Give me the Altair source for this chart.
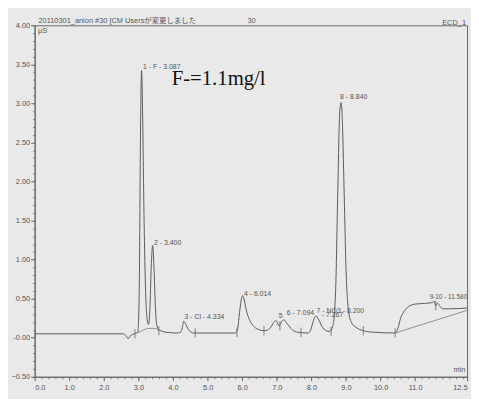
import altair as alt
import pandas as pd

# Chromatogram trace (retention time in min, conductivity in µS)
time_min = [0.0, 2.55, 2.63, 2.70, 2.78, 2.88, 2.98, 3.02, 3.06, 3.09, 3.12, 3.16, 3.20, 3.25,
            3.29, 3.33, 3.37, 3.41, 3.45, 3.49, 3.53, 3.60, 3.80, 4.10, 4.22, 4.27, 4.31, 4.36,
            4.45, 4.60, 5.80, 5.87, 5.93, 5.98, 6.01, 6.05, 6.12, 6.22, 6.35, 6.50, 6.65, 6.80,
            6.92, 6.98, 7.07, 7.13, 7.20, 7.30, 7.45, 7.60, 7.90, 7.98, 8.06, 8.13, 8.20, 8.30,
            8.42, 8.52, 8.62, 8.70, 8.76, 8.82, 8.86, 8.90, 8.95, 9.00, 9.06, 9.15, 9.30, 9.50,
            9.80, 10.42, 10.50, 10.58, 10.70, 10.85, 11.00, 11.30, 11.50, 11.55, 11.59, 11.65,
            11.72, 11.80, 12.00, 12.50]
signal_us = [0.05, 0.05, 0.03, -0.01, 0.03, 0.05, 0.07, 0.50, 2.60, 3.42, 2.90, 1.60, 0.70, 0.25,
             0.17, 0.35, 0.90, 1.18, 0.90, 0.40, 0.16, 0.10, 0.07, 0.06, 0.07, 0.13, 0.21, 0.18,
             0.10, 0.06, 0.06, 0.12, 0.35, 0.50, 0.54, 0.50, 0.35, 0.22, 0.14, 0.10, 0.09, 0.12,
             0.20, 0.22, 0.15, 0.20, 0.23, 0.18, 0.10, 0.07, 0.06, 0.10, 0.22, 0.28, 0.24, 0.15,
             0.09, 0.08, 0.15, 0.60, 1.80, 2.90, 3.01, 2.70, 1.80, 0.90, 0.40, 0.20, 0.13, 0.09,
             0.07, 0.06, 0.12, 0.25, 0.35, 0.41, 0.43, 0.44, 0.45, 0.47, 0.41, 0.44,
             0.40, 0.37, 0.37, 0.38]

# integration baselines
hump_t = [2.98, 3.15, 3.30, 3.45, 3.60]
hump_v = [0.06, 0.10, 0.12, 0.12, 0.09]
base_t = [10.42, 12.50]
base_v = [0.06, 0.35]

# peak boundary markers
tick_t = [2.90, 3.59, 4.64, 5.85, 6.63, 7.09, 7.70, 8.57, 9.50, 10.42, 11.60]
tick_v = [0.05, 0.09, 0.06, 0.07, 0.09, 0.15, 0.07, 0.08, 0.09, 0.06, 0.41]

# peak labels
label_text = ["1 - F - 3.087", "2 - 3.400", "3 - Cl - 4.334", "4 - 6.014", "5",
              "6 - 7.094", "- 7.267", "7 - NO3 - 8.200", "8 - 8.840", "9", "-10 - 11.580"]
label_t = [3.13, 3.45, 4.33, 6.05, 7.06, 7.29, 8.30, 8.15, 8.83, 11.42, 11.52]
label_v = [3.44, 1.19, 0.24, 0.54, 0.25, 0.29, 0.27, 0.32, 3.06, 0.50, 0.50]
label_size = [7, 7, 7, 7, 7, 7, 7, 7, 7, 6.5, 6.5]

# header texts
head_text = ["20110301_anion #30 [CM Usersが変更しました", "30"]
head_t = [0.11, 6.15]
head_v = [4.025, 4.025]

x_major = [0.0, 1.0, 2.0, 3.0, 4.0, 5.0, 6.0, 7.0, 8.0, 9.0, 10.0, 11.0, 12.5]
x_minor = [round(i * 0.2, 1) for i in range(63)]
y_major = [-0.5, 0.0, 0.5, 1.0, 1.5, 2.0, 2.5, 3.0, 3.5, 4.0]
y_minor = [round(-0.5 + i * 0.1, 1) for i in range(46)]

FONT = "Liberation Sans"
GRAY = "#555555"
LINE = "#5a5a5a"

xs = alt.Scale(domain=[0, 12.5], nice=False, zero=False)
ys = alt.Scale(domain=[-0.5, 4.0], nice=False, zero=False)

trace_df = pd.DataFrame({"t": time_min, "v": signal_us})
hump_df = pd.DataFrame({"t": hump_t, "v": hump_v})
base_df = pd.DataFrame({"t": base_t, "v": base_v})
tick_df = pd.DataFrame({"t": tick_t, "lo": [v - 0.06 for v in tick_v], "hi": [v + 0.06 for v in tick_v]})
label_df = pd.DataFrame({"t": label_t, "v": label_v, "s": label_text, "fs": label_size})
head_df = pd.DataFrame({"t": head_t, "v": head_v, "s": head_text})

axis_common = dict(domainColor="#666666", tickColor="#666666", labelColor=GRAY,
                   labelFont=FONT, labelFontSize=7.5, grid=False, title=None)

x_major_axis = alt.Axis(values=x_major, format=".1f", tickSize=4, labelPadding=3,
                        orient="bottom", **axis_common)
y_major_axis = alt.Axis(values=y_major, tickSize=4, labelPadding=1, orient="left",
                        labelExpr="datum.value == 0 ? '-0.00' : format(datum.value, '.2f')",
                        **axis_common)
x_minor_axis = alt.Axis(values=x_minor, labels=False, tickSize=2, orient="bottom",
                        domain=False, tickColor="#777777", grid=False, title=None)
y_minor_axis = alt.Axis(values=y_minor, labels=False, tickSize=2, orient="left",
                        domain=False, tickColor="#777777", grid=False, title=None)

trace = alt.Chart(trace_df).mark_line(color=LINE, strokeWidth=1, interpolate="monotone").encode(
    x=alt.X("t:Q", scale=xs, axis=x_major_axis),
    y=alt.Y("v:Q", scale=ys, axis=y_major_axis),
)

base = alt.Chart(base_df).mark_line(color="#777777", strokeWidth=0.8).encode(
    x=alt.X("t:Q", scale=xs, axis=x_minor_axis),
    y=alt.Y("v:Q", scale=ys, axis=y_minor_axis),
)

hump = alt.Chart(hump_df).mark_line(color="#777777", strokeWidth=0.8, interpolate="monotone").encode(
    x=alt.X("t:Q", scale=xs, axis=None),
    y=alt.Y("v:Q", scale=ys, axis=None),
)

ticks = alt.Chart(tick_df).mark_rule(color="#666666", strokeWidth=0.8).encode(
    x=alt.X("t:Q", scale=xs, axis=None),
    y=alt.Y("lo:Q", scale=ys, axis=None),
    y2="hi:Q",
)

labels = alt.Chart(label_df).mark_text(align="left", baseline="alphabetic", font=FONT,
                                       color=GRAY).encode(
    x=alt.X("t:Q", scale=xs, axis=None),
    y=alt.Y("v:Q", scale=ys, axis=None),
    text="s:N",
    size=alt.Size("fs:Q", scale=None, legend=None),
)

heads = alt.Chart(head_df).mark_text(align="left", baseline="alphabetic",
                                     font="Liberation Sans, Noto Sans CJK JP",
                                     fontSize=7.5, color=GRAY).encode(
    x=alt.X("t:Q", scale=xs, axis=None),
    y=alt.Y("v:Q", scale=ys, axis=None),
    text="s:N",
)

ecd = alt.Chart(pd.DataFrame({"t": [12.47], "v": [4.01], "s": ["ECD_1"]})).mark_text(
    align="right", baseline="alphabetic", font=FONT, fontSize=7.5, color=GRAY).encode(
    x=alt.X("t:Q", scale=xs, axis=None), y=alt.Y("v:Q", scale=ys, axis=None), text="s:N")

unit = alt.Chart(pd.DataFrame({"t": [0.1], "v": [3.90], "s": ["μS"]})).mark_text(
    align="left", baseline="alphabetic", font=FONT, fontSize=7.5, color=GRAY).encode(
    x=alt.X("t:Q", scale=xs, axis=None), y=alt.Y("v:Q", scale=ys, axis=None), text="s:N")

minlab = alt.Chart(pd.DataFrame({"t": [12.45], "v": [-0.44], "s": ["min"]})).mark_text(
    align="right", baseline="alphabetic", font=FONT, fontSize=7.5, color=GRAY).encode(
    x=alt.X("t:Q", scale=xs, axis=None), y=alt.Y("v:Q", scale=ys, axis=None), text="s:N")

note = alt.Chart(pd.DataFrame({"t": [3.96], "v": [3.24], "s": ["F-=1.1mg/l"]})).mark_text(
    align="left", baseline="alphabetic", font="Liberation Serif", fontSize=21, color="#111111").encode(
    x=alt.X("t:Q", scale=xs, axis=None), y=alt.Y("v:Q", scale=ys, axis=None), text="s:N")

chart = alt.layer(trace, base, hump, ticks, labels, heads, ecd, unit, minlab, note).resolve_axis(
    x="independent", y="independent"
).properties(
    width=438, height=356,
    autosize=alt.AutoSizeParams(type="none"),
    padding={"left": 27, "top": 15, "right": 4, "bottom": 20},
    background="#e9e9e9",
).configure_view(stroke="#6a6a6a", strokeWidth=1)

chart.save("out.html", embed_options={"renderer": "svg", "actions": False})
